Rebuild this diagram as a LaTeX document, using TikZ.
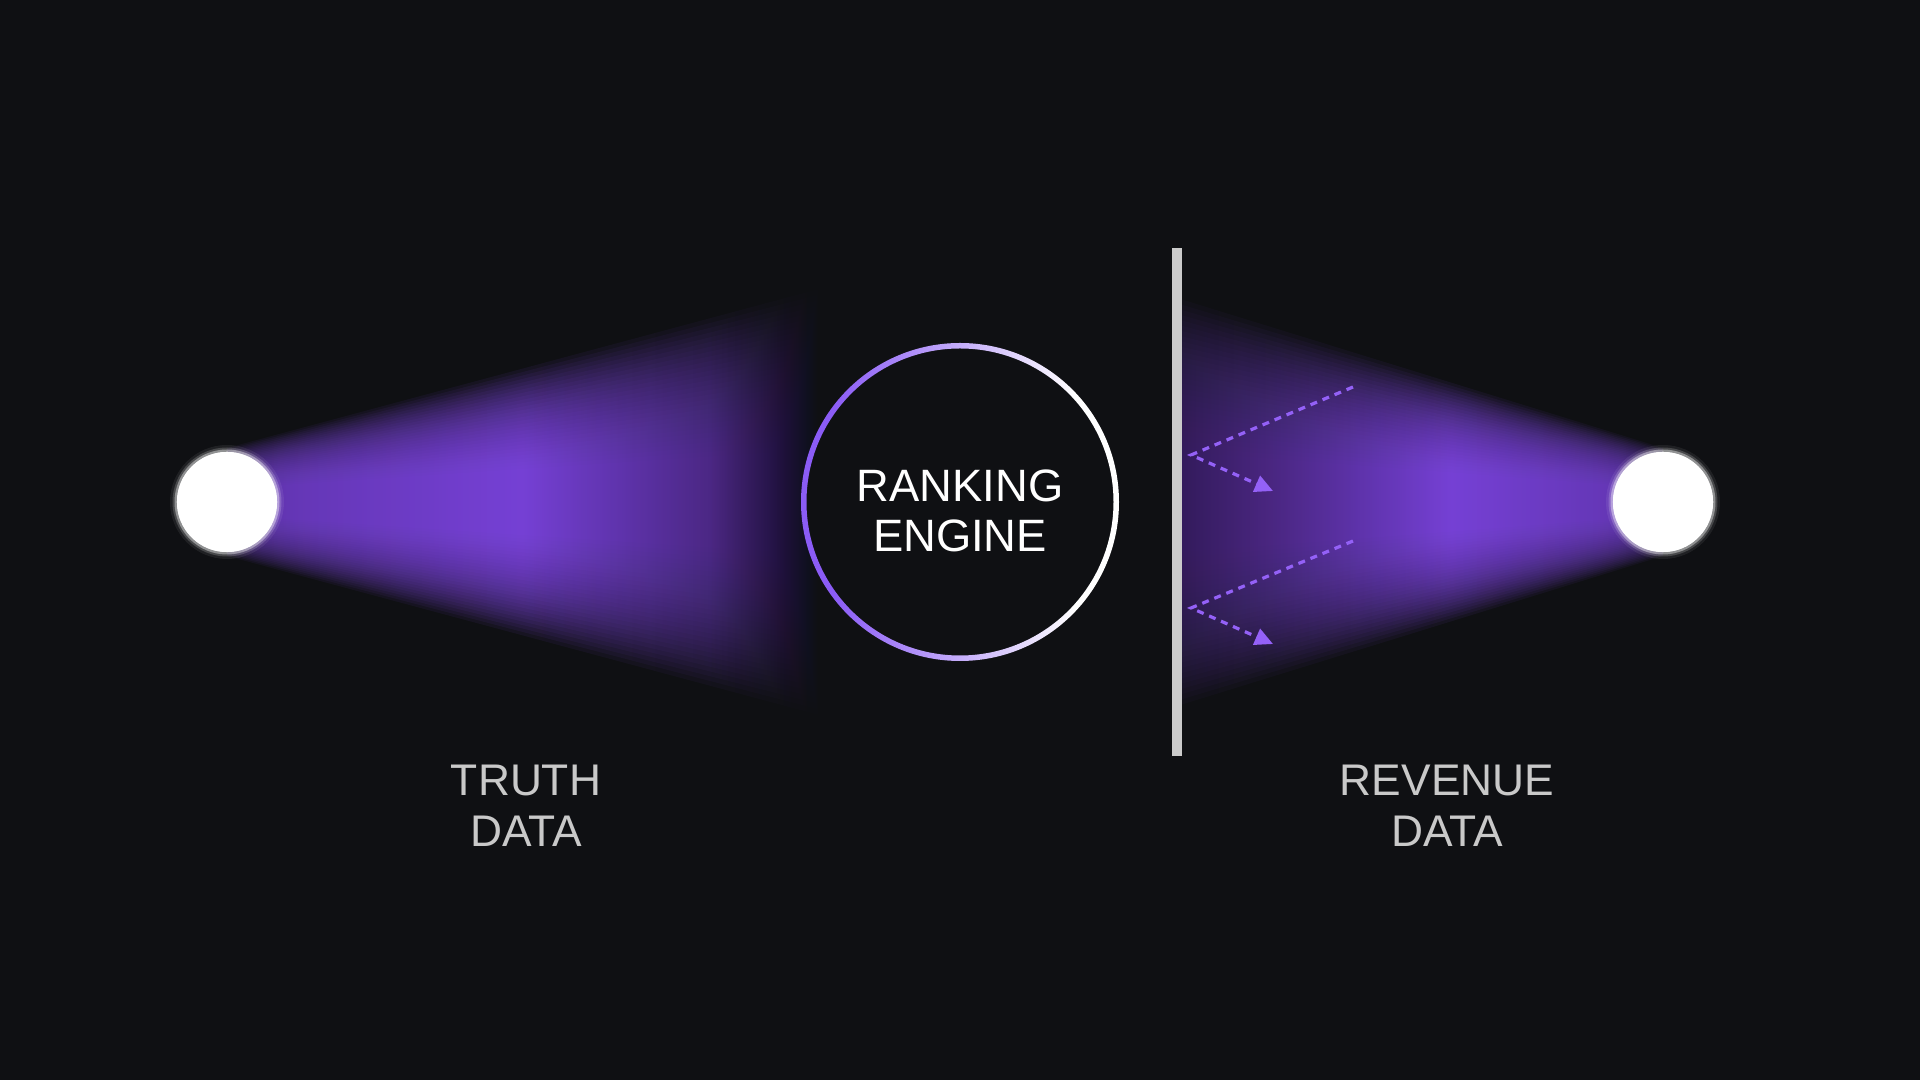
\documentclass[tikz,border=0pt]{standalone}
\usepackage{fontspec}
\setmainfont{Liberation Sans}
\usetikzlibrary{positioning,arrows.meta}

\definecolor{bgcol}{HTML}{0F1013}
\definecolor{beamcore}{HTML}{8C4EF8}
\definecolor{ringpurple}{HTML}{8B5CF6}
\definecolor{wallgray}{HTML}{CBCBCB}
\definecolor{labelgray}{HTML}{C9C9C9}
\definecolor{bouncepurple}{HTML}{9461F7}
\colorlet{beamA}{beamcore!40!bgcol}
\colorlet{beamB}{beamcore!60!bgcol}
\colorlet{beamC}{beamcore!75!bgcol}
\colorlet{beamD}{beamcore!85!bgcol}
\colorlet{ringmid}{ringpurple!45!white}

% glow along the beams, 25bp..75bp is the path
\pgfdeclarehorizontalshading{beamL}{100bp}{color(0bp)=(beamC); color(25bp)=(beamC);
  color(31bp)=(beamD); color(49.5bp)=(beamcore); color(65bp)=(beamB);
  color(75bp)=(bgcol); color(100bp)=(bgcol)}
\pgfdeclarehorizontalshading{beamR}{100bp}{color(0bp)=(beamA); color(25bp)=(beamA);
  color(35bp)=(beamB); color(53bp)=(beamcore); color(69bp)=(beamD);
  color(75bp)=(beamC); color(100bp)=(beamC)}
\pgfdeclarehorizontalshading{ringfade}{100bp}{color(0bp)=(ringpurple);
  color(30bp)=(ringpurple); color(52bp)=(ringmid); color(68bp)=(white);
  color(100bp)=(white)}

\begin{document}
\begin{tikzpicture}[
    x=0.01cm, y=-0.01cm,
    source/.style={circle, fill=white, minimum size=1.0cm, inner sep=0pt},
    engine/.style={circle, fill=bgcol, minimum size=3.1cm, inner sep=0pt},
    enginetext/.style={text=white, align=center,
      font=\fontsize{12.9}{14.2}\selectfont},
    tag/.style={text=labelgray, align=center,
      font=\fontsize{12.6}{14.5}\selectfont},
    wall/.style={rectangle, fill=wallgray, minimum width=0.1cm,
      minimum height=5.08cm, inner sep=0pt},
    bounce/.style={bouncepurple, line width=0.032cm,
      dash pattern=on 0.07cm off 0.06cm,
      -{Triangle[length=0.18cm,width=0.17cm]}},
  ]

  %% Background
  \useasboundingbox (0,0) rectangle (1920,1080);
  \fill[bgcol] (0,0) rectangle (1920,1080);

  %% Glow beams
  \foreach \i in {0,...,29}{
    \pgfmathsetmacro\s{1.35-0.035*\i}
    \shade[shading=beamL, opacity=0.065]
      (227,{502-40*\s}) -- (830,{502-160*\s}) -- (830,{502+160*\s})
      -- (227,{502+40*\s}) -- cycle;
    \shade[shading=beamR, opacity=0.065]
      (1182,{502-150*\s}) -- (1663,{502-40*\s}) -- (1663,{502+40*\s})
      -- (1182,{502+150*\s}) -- cycle;
  }

  %% Nodes
  \node[source] (truthsrc) at (227,502) {};
  \node[source] (revenuesrc) at (1663,502) {};
  \foreach \r/\o in {57/0.07, 54.5/0.18, 52.5/0.4}{
    \fill[white, opacity=\o] (truthsrc.center) circle (\r);
    \fill[white, opacity=\o] (revenuesrc.center) circle (\r);
  }
  \node[source] at (truthsrc.center) {};
  \node[source] at (revenuesrc.center) {};

  \node[engine] (engine) at (960,502) {};
  \shade[shading=ringfade, even odd rule]
    (engine.center) circle (159) (engine.center) circle (153.5);
  \node[enginetext] (enginelbl) at (960,511) {RANKING\\ENGINE};

  \node[wall] (wall) at (1177,502) {};

  %% Labels below
  \node[tag] (truthlbl) at (526,806) {TRUTH\\DATA};
  \node[tag] (revenuelbl) at (1447,806) {REVENUE\\DATA};

  %% Bounces off the wall
  \coordinate (in1) at (1353,387);
  \coordinate (hit1) at (1191,455);
  \coordinate (out1) at (1273,491);
  \coordinate (in2) at (1353,541);
  \coordinate (hit2) at (1191,608);
  \coordinate (out2) at (1273,644);
  \draw[bounce] (in1) -- (hit1) -- (out1);
  \draw[bounce] (in2) -- (hit2) -- (out2);

\end{tikzpicture}
\end{document}
